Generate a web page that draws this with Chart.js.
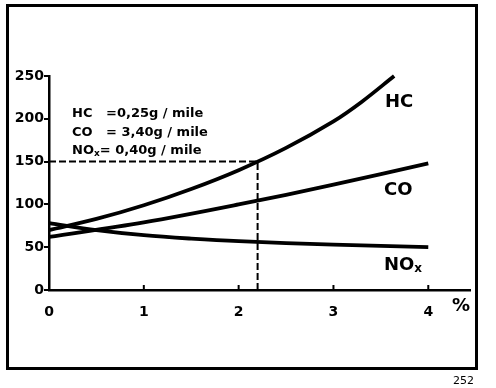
<!DOCTYPE html>
<html>
<head>
<meta charset="utf-8">
<script src="https://cdn.jsdelivr.net/npm/chart.js@4"></script>
<style>
  body { margin:0; background:#fff; }
  #wrap { position:relative; width:496px; height:388px; }
</style>
</head>
<body>
<div id="wrap"><canvas id="myChart" width="496" height="388"></canvas></div>
<script>
// values (x = %, y = emission index)
var hcX  = [0, 0.5, 1, 1.5, 2, 2.5, 3, 3.3, 3.64];
var hcY  = [70, 83, 99, 118, 140, 166, 197, 220, 250];
var coX  = [0, 1, 2, 3, 4];
var coY  = [62, 79, 100, 123, 148];
var noxX = [0, 0.5, 1, 1.5, 2, 3, 4];
var noxY = [78, 70, 64, 60, 57, 53, 50];
// dashed reading line at 2,2 % -> 150
var markX = [0, 2.2, 2.2];
var markY = [150, 150, 0];
var xTicks = [0, 1, 2, 3, 4];
var yTicks = [0, 50, 100, 150, 200, 250];
var notes = [
  ['HC', '', '=0,25g / mile'],
  ['CO', '', '= 3,40g / mile'],
  ['NO', 'x', '= 0,40g / mile']
];

function pts(xs, ys){
  return xs.map(function(x, i){ return {x: x, y: ys[i]}; });
}

function curve(label, xs, ys){
  return {
    label: label,
    data: pts(xs, ys),
    borderColor: '#000',
    borderWidth: 3.8,
    pointRadius: 0,
    tension: 0.35,
    clip: 6
  };
}

var bold = '"DejaVu Sans", sans-serif';

// frame, inner x ticks, labels
var extras = {
  id: 'extras',
  afterDraw: function(chart){
    var c = chart.ctx, xs = chart.scales.x, ys = chart.scales.y;
    c.save();
    c.strokeStyle = '#000';
    c.lineWidth = 3;
    c.strokeRect(7.5, 5.5, 469, 363);

    // x ticks pointing up
    c.lineWidth = 2;
    xTicks.slice(1).forEach(function(v){
      var px = xs.getPixelForValue(v);
      c.beginPath(); c.moveTo(px, ys.bottom); c.lineTo(px, ys.bottom - 5); c.stroke();
    });

    c.fillStyle = '#000';
    c.textBaseline = 'alphabetic';
    // legend text block
    c.font = 'bold 13px ' + bold;
    var rows = [117, 136, 154];
    notes.forEach(function(n, i){
      c.fillText(n[0], 72, rows[i]);
      var w = c.measureText(n[0]).width;
      if (n[1]) {
        c.font = 'bold 9px ' + bold;
        c.fillText(n[1], 72 + w, rows[i] + 2);
        w += c.measureText(n[1]).width;
        c.font = 'bold 13px ' + bold;
        c.fillText(n[2], 72 + w, rows[i]);
      } else {
        c.fillText(n[2], 106, rows[i]);
      }
    });

    // curve names
    c.font = 'bold 18px ' + bold;
    c.fillText('HC', 385, 107);
    c.fillText('CO', 384, 195);
    c.fillText('NO', 384, 270);
    var w2 = c.measureText('NO').width;
    c.font = 'bold 12px ' + bold;
    c.fillText('x', 384 + w2, 272);

    c.font = 'bold 18px ' + bold;
    c.fillText('%', 452, 311);

    c.font = '11px ' + bold;
    c.fillText('252', 453, 384);
    c.restore();
  }
};

var ctx = document.getElementById("myChart");

var myChart = new Chart(ctx, {
  type: 'line',
  data: {
    datasets: [
      curve('HC', hcX, hcY),
      curve('CO', coX, coY),
      curve('NOx', noxX, noxY),
      {
        label: 'mark',
        data: pts(markX, markY),
        borderColor: '#000',
        borderWidth: 2,
        borderDash: [7, 3],
        pointRadius: 0,
        tension: 0
      }
    ]
  },
  options: {
    responsive: false,
    animation: false,
    layout: { padding: { left: 0, top: 76, right: 26, bottom: 0 } },
    plugins: { legend: { display: false }, tooltip: { enabled: false } },
    scales: {
      x: {
        type: 'linear',
        min: 0,
        max: 4.44,
        afterBuildTicks: function(s){ s.ticks = xTicks.map(function(v){ return {value: v}; }); },
        afterFit: function(s){ s.height = 98; },
        grid: { display: false },
        border: { color: '#000', width: 2.5 },
        ticks: { color: '#000', font: { family: bold, size: 14, weight: 'bold' }, padding: 6, maxRotation: 0 }
      },
      y: {
        min: 0,
        max: 250,
        afterBuildTicks: function(s){ s.ticks = yTicks.map(function(v){ return {value: v}; }); },
        afterFit: function(s){ s.width = 49; },
        grid: { drawOnChartArea: false, drawTicks: true, tickLength: 5, color: '#000', lineWidth: 2 },
        border: { color: '#000', width: 2.5 },
        ticks: { color: '#000', font: { family: bold, size: 14, weight: 'bold' }, padding: 0 }
      }
    }
  },
  plugins: [extras]
});
</script>
</body>
</html>
